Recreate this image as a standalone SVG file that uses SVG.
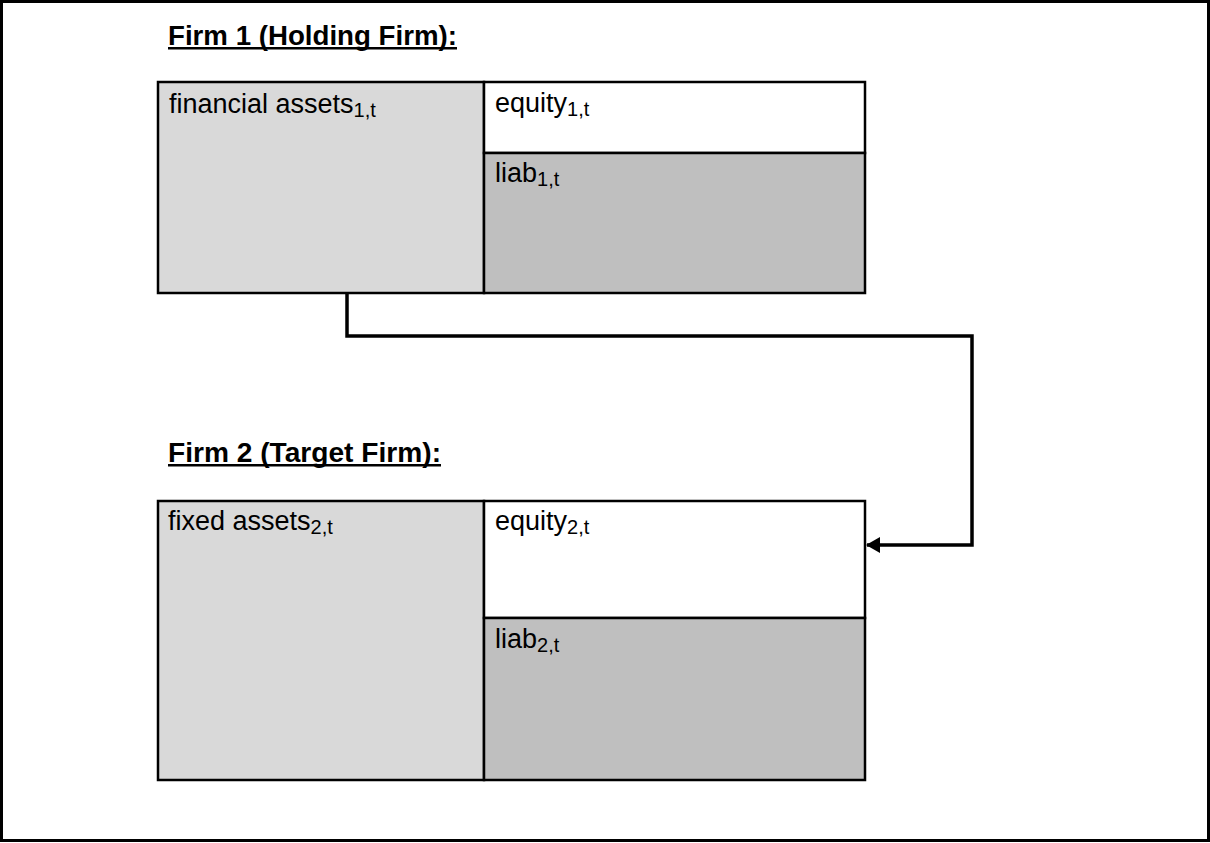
<svg xmlns="http://www.w3.org/2000/svg" width="1210" height="843" viewBox="0 0 1210 843">
<style>
.t{font-family:"Liberation Sans",Arial,sans-serif;font-size:27px;fill:#000}
.s{font-size:20px}
.h{font-family:"Liberation Sans",Arial,sans-serif;font-size:28px;font-weight:bold;fill:#000}
.box{stroke:#000;stroke-width:2.5}
.conn{fill:none;stroke:#000;stroke-width:3.5}
</style>
<defs>
<marker id="arr" markerWidth="14" markerHeight="16" refX="13" refY="8" orient="auto" markerUnits="userSpaceOnUse">
<path d="M0,0 L14,8 L0,16 Z" fill="#000"/>
</marker>
</defs>
<rect x="1.5" y="1.5" width="1207" height="839" fill="#fff" stroke="#000" stroke-width="3"/>
<g id="title1">
<text class="h" x="168" y="45" textLength="289" lengthAdjust="spacingAndGlyphs">Firm 1 (Holding Firm):</text>
<rect x="168" y="47" width="289" height="2.5" fill="#000"/>
</g>
<g id="firm1">
<rect class="box" x="158" y="82" width="326" height="211" fill="#d9d9d9"/>
<rect class="box" x="484" y="82" width="381" height="71" fill="#fff"/>
<rect class="box" x="484" y="153" width="381" height="140" fill="#bfbfbf"/>
<text class="t" x="169" y="113">financial assets<tspan class="s" dy="4">1,t</tspan></text>
<text class="t" x="495" y="112">equity<tspan class="s" dy="4">1,t</tspan></text>
<text class="t" x="495" y="182">liab<tspan class="s" dy="4">1,t</tspan></text>
</g>
<g id="title2">
<text class="h" x="168" y="462" textLength="273" lengthAdjust="spacingAndGlyphs">Firm 2 (Target Firm):</text>
<rect x="168" y="464" width="273" height="2.5" fill="#000"/>
</g>
<g id="firm2">
<rect class="box" x="158" y="501" width="326" height="279" fill="#d9d9d9"/>
<rect class="box" x="484" y="501" width="381" height="117" fill="#fff"/>
<rect class="box" x="484" y="618" width="381" height="162" fill="#bfbfbf"/>
<text class="t" x="168" y="530">fixed assets<tspan class="s" dy="4">2,t</tspan></text>
<text class="t" x="495" y="530">equity<tspan class="s" dy="4">2,t</tspan></text>
<text class="t" x="495" y="648">liab<tspan class="s" dy="4">2,t</tspan></text>
</g>
<g id="connectors">
<path class="conn" d="M347,293 V336 H972 V545 H867" marker-end="url(#arr)"/>
</g>
</svg>
